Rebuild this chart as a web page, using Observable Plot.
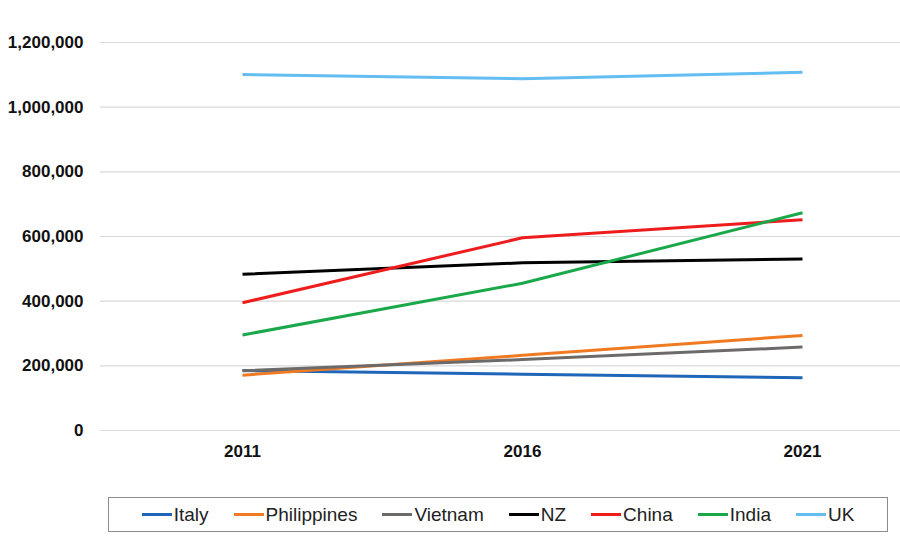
<!DOCTYPE html>
<html><head><meta charset="utf-8">
<script src="https://cdn.jsdelivr.net/npm/d3@7"></script>
<script src="https://cdn.jsdelivr.net/npm/@observablehq/plot@0.6"></script>
<style>
body{margin:0;background:#fff;font-family:"Liberation Sans","Open Sans",sans-serif;}
#wrap{position:relative;width:900px;height:560px;}
#legend{position:absolute;left:108px;top:497px;width:780px;height:35px;border:1px solid #8c8c8c;box-sizing:border-box;display:flex;align-items:center;justify-content:center;font-size:19px;color:#222;}
.item{display:flex;align-items:center;margin:0 12.5px;}
.sw{width:30px;height:3px;margin-right:2px;}
</style></head><body>
<div id="wrap"><div id="chart"></div><div id="legend"></div></div>
<script>
const years = [2011, 2016, 2021];
const countries = ["Italy","Philippines","Vietnam","NZ","China","India","UK"];
const colors = ["#1f66b8","#f07a22","#6d6a6a","#000000","#ee1c1c","#1aa84a","#63bdf0"];
const italy = [185402, 174042, 163326];
const philippines = [171233, 232386, 293892];
const vietnam = [185039, 219351, 257997];
const nz = [483398, 518462, 530492];
const china = [395000, 596000, 652000];
const india = [295362, 455389, 673352];
const uk = [1101082, 1087756, 1107880];
const yTicks = [0,200000,400000,600000,800000,1000000,1200000];

const series = [italy, philippines, vietnam, nz, china, india, uk];
const data = [];
series.forEach((vals, i) => vals.forEach((v, j) => data.push({country: countries[i], year: years[j], value: v})));

const fmt = d3.format(",");
const plot = Plot.plot({
  width: 900, height: 470,
  marginTop: 42, marginBottom: 40, marginLeft: 100, marginRight: 0,
  style: {fontFamily: "'Liberation Sans', 'Open Sans', sans-serif", fontSize: "17px", fontWeight: "bold", color: "#111"},
  x: {type: "linear", domain: [2011 - 142/56, 2021 + 98/56], ticks: years, tickFormat: d => String(d), tickSize: 0, tickPadding: 14, label: null},
  y: {domain: [0, 1200000], ticks: yTicks, tickFormat: fmt, tickSize: 0, tickPadding: 17, label: null},
  color: {domain: countries, range: colors},
  marks: [
    Plot.ruleY(yTicks, {stroke: "#d9d9d9", strokeWidth: 1.2}),
    Plot.line(data, {x: "year", y: "value", z: "country", stroke: "country", strokeWidth: 3, strokeLinecap: "butt"})
  ]
});
document.getElementById("chart").appendChild(plot);

const lg = document.getElementById("legend");
countries.forEach((c, i) => {
  const it = document.createElement("div"); it.className = "item";
  const sw = document.createElement("div"); sw.className = "sw"; sw.style.background = colors[i];
  const t = document.createElement("span"); t.textContent = c;
  it.appendChild(sw); it.appendChild(t); lg.appendChild(it);
});
</script></body></html>
